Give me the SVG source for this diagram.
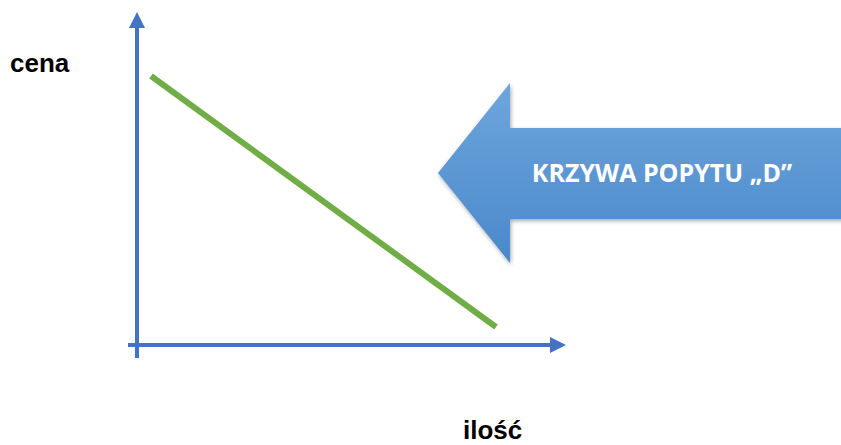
<svg xmlns="http://www.w3.org/2000/svg" width="841" height="445" viewBox="0 0 841 445">
<style>
.axis{stroke:#4472c4;stroke-width:4;fill:none}
.lbl{font-family:"Liberation Sans",Arial,sans-serif;font-weight:bold;font-size:26px;fill:#000}
.arrtxt{font-family:"Open Sans","Liberation Sans",sans-serif;font-weight:bold;font-size:25px;fill:#fff}
</style>
<defs>
<linearGradient id="g" x1="0" y1="0" x2="0" y2="1">
<stop offset="0" stop-color="#6ea6dd"/>
<stop offset="1" stop-color="#4a88cb"/>
</linearGradient>
<filter id="sh" x="-10%" y="-10%" width="130%" height="130%">
<feGaussianBlur in="SourceAlpha" stdDeviation="2"/>
<feOffset dx="1" dy="2" result="b"/>
<feComponentTransfer><feFuncA type="linear" slope="0.35"/></feComponentTransfer>
<feMerge><feMergeNode/><feMergeNode in="SourceGraphic"/></feMerge>
</filter>
</defs>
<g id="connectors">
<line class="axis" x1="137" y1="358" x2="137" y2="26"/>
<polygon points="137,12 129,28 145,28" fill="#4472c4"/>
<line class="axis" x1="128" y1="345" x2="552" y2="345"/>
<polygon points="566,345 550,337 550,353" fill="#4472c4"/>
<line id="demand-curve" x1="151" y1="76" x2="496" y2="327" stroke="#70ad47" stroke-width="6"/>
</g>
<g id="label-cena"><text class="lbl" x="10" y="72">cena</text></g>
<g id="label-ilosc"><text class="lbl" x="463" y="439">ilość</text></g>
<g id="big-arrow">
<polygon points="438,173 510,83 510,128 845,128 845,219 510,219 510,263" fill="url(#g)" filter="url(#sh)"/>
<text class="arrtxt" x="662" y="182" text-anchor="middle">KRZYWA POPYTU „D”</text>
</g>
</svg>
